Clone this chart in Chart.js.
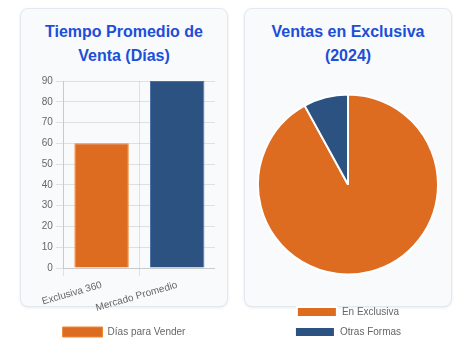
<!DOCTYPE html>
<html lang="es">
<head>
<meta charset="utf-8">
<script src="https://cdn.jsdelivr.net/npm/chart.js"></script>
<style>
  body { margin: 0; background: #fff; font-family: Arial, "Liberation Sans", sans-serif; }
  .card {
    position: absolute; top: 8px; width: 206px; height: 297px;
    background: #f8fafc; border: 1px solid #e2e8f0; border-radius: 8px;
    box-shadow: 0 1px 3px rgba(0,0,0,0.08);
  }
  .card h2 {
    position: absolute; top: 11px; left: 12px; right: 12px; margin: 0;
    font-size: 16px; line-height: 24px; font-weight: bold; color: #1d4ed8; text-align: center;
  }
  .chart-box { position: absolute; top: 72px; width: 182px; height: 275px; }
</style>
</head>
<body>
<div class="card" style="left:20px"><h2>Tiempo Promedio de Venta (Días)</h2></div>
<div class="card" style="left:244px"><h2>Ventas en Exclusiva (2024)</h2></div>
<div class="chart-box" style="left:33px"><canvas id="barChart"></canvas></div>
<div class="chart-box" style="left:257px"><canvas id="pieChart"></canvas></div>

<script>
// datos
const barLabels = ["Exclusiva 360", "Mercado Promedio"];
const diasVender = [60, 90];
const barColors = ["#dd6b20", "#2c5282"];
const barBorders = ["#ed8936", "#4a6fa5"];

const pieLabels = ["En Exclusiva", "Otras Formas"];
const pieValues = [92, 8];
const pieColors = ["#dd6b20", "#2c5282"];

Chart.defaults.font.size = 10;
Chart.defaults.color = "#666";
Chart.defaults.animation = false;

new Chart(document.getElementById("barChart"), {
  type: "bar",
  data: {
    labels: barLabels,
    datasets: [{
      label: "Días para Vender",
      data: diasVender,
      backgroundColor: barColors,
      borderColor: barBorders,
      borderWidth: 1
    }]
  },
  options: {
    responsive: true,
    maintainAspectRatio: false,
    layout: { padding: { top: 2 } },
    plugins: { legend: { position: "bottom" } },
    scales: {
      y: { beginAtZero: true, max: 90, ticks: { stepSize: 10 } }
    }
  }
});

new Chart(document.getElementById("pieChart"), {
  type: "pie",
  data: {
    labels: pieLabels,
    datasets: [{
      data: pieValues,
      backgroundColor: pieColors
    }]
  },
  options: {
    responsive: true,
    maintainAspectRatio: false,
    plugins: { legend: { position: "bottom" } }
  }
});
</script>
</body>
</html>
